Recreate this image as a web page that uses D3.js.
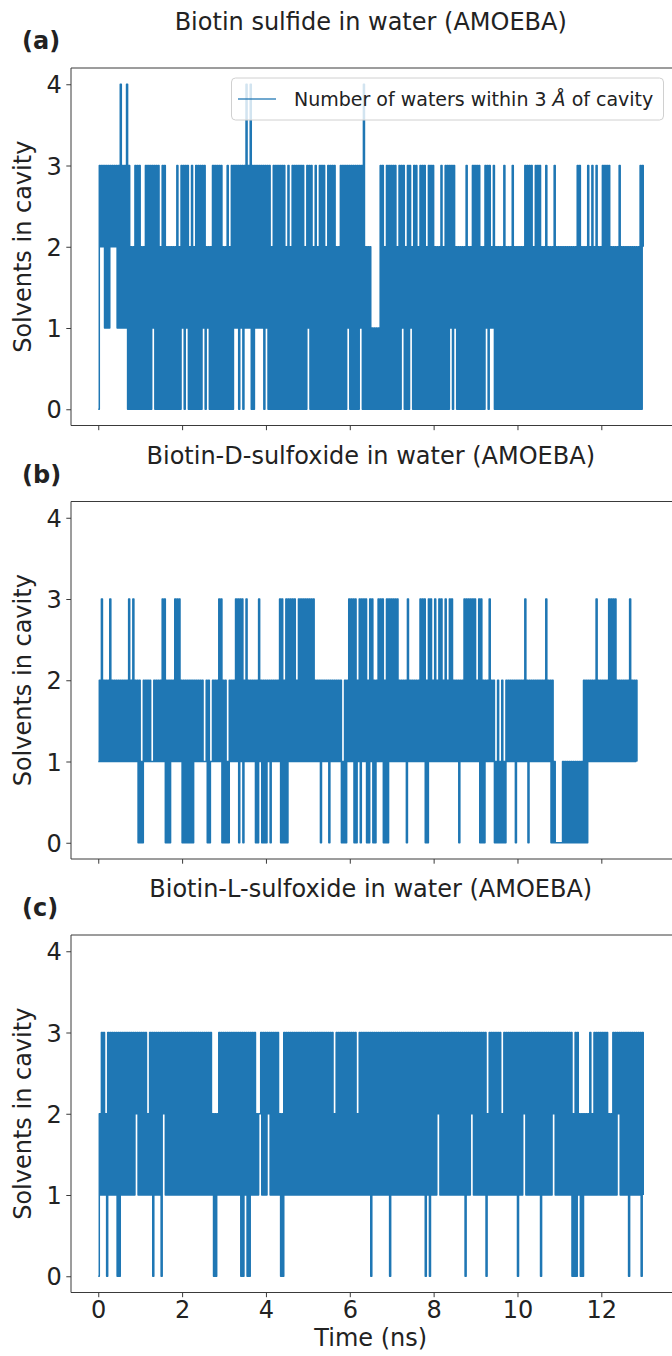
<!DOCTYPE html>
<html>
<head>
<meta charset="utf-8">
<script src="https://cdn.jsdelivr.net/npm/d3@7"></script>
<style>
  body { margin: 0; background: #fff; }
  svg { display: block; }
  text { font-family: "DejaVu Sans", sans-serif; fill: #222; }
</style>
</head>
<body>
<div id="chart"></div>
<script>
// time between frames (ns)
const timeStep = 0.025;
const yTicks = [0, 1, 2, 3, 4];
const xTicks = [0, 2, 4, 6, 8, 10, 12];
const panelLetters = ["(a)", "(b)", "(c)"];
const panelTitles = [
  "Biotin sulfide in water (AMOEBA)",
  "Biotin-D-sulfoxide in water (AMOEBA)",
  "Biotin-L-sulfoxide in water (AMOEBA)"
];

// number of waters in the cavity, one digit per frame,
// one string per nanosecond (spaces only to make it readable)
const watersSulfide = [
  "0323231313 1323232313 1413131403 0202030303",
  "0202030303 0313030302 0303020202 0202030203",
  "1303130203 0203030303 1302120203 0303030302",
  "0203020303 1313031303 1413140303 1313131303",
  "1303020303 0303030302 0302030303 0303030203",
  "1303020302 0303030203 0303030202 0303030313",
  "0303030303 1304020202 0101010103 0302030303",
  "0303020303 1302030312 0303020303 0302030303",
  "0202020302 0303031303 1202020202 0302020303",
  "0303020203 1303121302 0202020302 0202030202",
  "0202020303 0303020303 0302020302 0202030202",
  "0202020202 0202020303 0202020302 0302030202",
  "0303030302 0202020302 0202020202 0202020303",
  "2"
];
const watersDSulfoxide = [
  "1213121212 1312121212 1212121213 1213121202",
  "0102121212 1112121212 1313020202 1213131312",
  "0202020202 0212121212 1112020112 1212131302",
  "0201021212 1313031302 1312121212 0203120202",
  "0212021212 1213030203 0313131312 1313131313",
  "1313131212 1202121212 0212121212 1201020213",
  "1313030213 0313130203 1302021313 1302030313",
  "1313131212 1212031212 1212121313 1302031312",
  "1312131312 1312131312 1212021213 1313131313",
  "1213030202 1213121201 0201020102 1212121202",
  "1212121312 0212121212 1212121312 1202010000",
  "0001010101 0101010101 0102020212 1212131212",
  "1212121313 1313121212 1212121312 12121"
];
const watersLSulfoxide = [
  "0213131203 1313131303 0313131313 1313132313",
  "1313131213 1303131313 0323131313 1313131313",
  "1313131313 1313131313 1313131312 0202131313",
  "1313131313 1313130303 1303031313 1212231313",
  "1323131313 1312020313 1313131313 1313131313",
  "1313131313 1313131313 1313121313 1313131313",
  "1313131213 1313131313 0313131313 1313131303",
  "1313131313 1313131313 1313131313 1303130313",
  "1313231313 1313131313 1313131313 0313132313",
  "1313131313 0213131313 1313121313 1313131313",
  "0313132313 1313131313 1303131313 1313231313",
  "1313131313 1302030312 0202121213 1213131313",
  "1313131212 1313132313 1313130313 1313131303",
  "1"
];

const width = 672, height = 1356;
const panelTop = [68, 501.5, 935];
const panelHeight = 357.5;
const blue = "#1f77b4";
const axisColor = "#3a3a3a";

const svg = d3.select("#chart")
  .append("svg")
  .attr("width", width)
  .attr("height", height);

svg.append("rect").attr("width", width).attr("height", height).attr("fill", "#fff");

// shared time axis
const x = d3.scaleLinear()
  .domain([-0.65, 13.65])
  .range([71, 670.5]);

const series = [watersSulfide, watersDSulfoxide, watersLSulfoxide]
  .map(rows => rows.join("").replace(/ /g, "").split("").map(Number));

series.forEach((values, p) => {
  const top = panelTop[p];
  const bottom = top + panelHeight;

  const y = d3.scaleLinear()
    .domain([-0.2, 4.2])
    .range([bottom, top]);

  const g = svg.append("g");

  // the trajectory: frames are denser than pixels, so draw each frame as a
  // vertical jump and the strokes pack into solid bands
  const line = d3.line()
    .x((d, i) => x(i * timeStep))
    .y(d => y(d))
    .curve(d3.curveStepAfter);

  g.append("path")
    .datum(values)
    .attr("d", line)
    .attr("fill", "none")
    .attr("stroke", blue)
    .attr("stroke-width", 1.5)
    .attr("stroke-linejoin", "round");

  // y axis
  const yAxis = d3.axisLeft(y)
    .tickValues(yTicks)
    .tickSize(4.7)
    .tickPadding(4.5)
    .tickFormat(d3.format("d"));

  const ya = g.append("g")
    .attr("transform", `translate(${x.range()[0]},0)`)
    .attr("color", axisColor)
    .call(yAxis);
  ya.select(".domain").remove();
  ya.selectAll("text")
    .attr("font-size", 24)
    .attr("font-family", "DejaVu Sans")
    .attr("fill", "#222")
    .attr("dy", "0.36em");

  // x axis (labels only on the bottom panel)
  const xAxis = d3.axisBottom(x)
    .tickValues(xTicks)
    .tickSize(4.7)
    .tickPadding(3.5)
    .tickFormat(p === 2 ? d3.format("d") : () => "");

  const xa = g.append("g")
    .attr("transform", `translate(0,${bottom})`)
    .attr("color", axisColor)
    .call(xAxis);
  xa.select(".domain").remove();
  xa.selectAll("text")
    .attr("font-size", 24)
    .attr("font-family", "DejaVu Sans")
    .attr("fill", "#222");

  // spines (right one falls off the figure)
  g.append("path")
    .attr("d", `M${width + 2},${top}H${x.range()[0]}V${bottom}H${width + 2}`)
    .attr("fill", "none")
    .attr("stroke", axisColor)
    .attr("stroke-width", 1);

  // y label
  g.append("text")
    .attr("transform", `translate(31,${(top + bottom) / 2}) rotate(-90)`)
    .attr("text-anchor", "middle")
    .attr("font-size", 24)
    .text("Solvents in cavity");

  // title and panel letter
  g.append("text")
    .attr("x", (x.range()[0] + x.range()[1]) / 2)
    .attr("y", top - 38)
    .attr("text-anchor", "middle")
    .attr("font-size", 24)
    .text(panelTitles[p]);

  g.append("text")
    .attr("x", 22)
    .attr("y", top - 19)
    .attr("font-size", 24)
    .attr("font-weight", "bold")
    .text(panelLetters[p]);

  // legend on the first panel
  if (p === 0) {
    const lg = g.append("g");
    lg.append("rect")
      .attr("x", 231.5).attr("y", 78)
      .attr("width", 432).attr("height", 42)
      .attr("rx", 4)
      .attr("fill", "#fff").attr("fill-opacity", 0.8)
      .attr("stroke", "#d0d0d0");
    lg.append("line")
      .attr("x1", 238).attr("x2", 276)
      .attr("y1", 99).attr("y2", 99)
      .attr("stroke", blue).attr("stroke-width", 1.6)
      .attr("stroke-opacity", 0.85);
    const lt = lg.append("text")
      .attr("x", 294).attr("y", 106)
      .attr("font-size", 19);
    lt.append("tspan").text("Number of waters within 3 ");
    lt.append("tspan").attr("font-style", "italic").text("Å");
    lt.append("tspan").text(" of cavity");
  }
});

// x label
svg.append("text")
  .attr("x", (x.range()[0] + x.range()[1]) / 2)
  .attr("y", 1346)
  .attr("text-anchor", "middle")
  .attr("font-size", 24)
  .text("Time (ns)");
</script>
</body>
</html>
